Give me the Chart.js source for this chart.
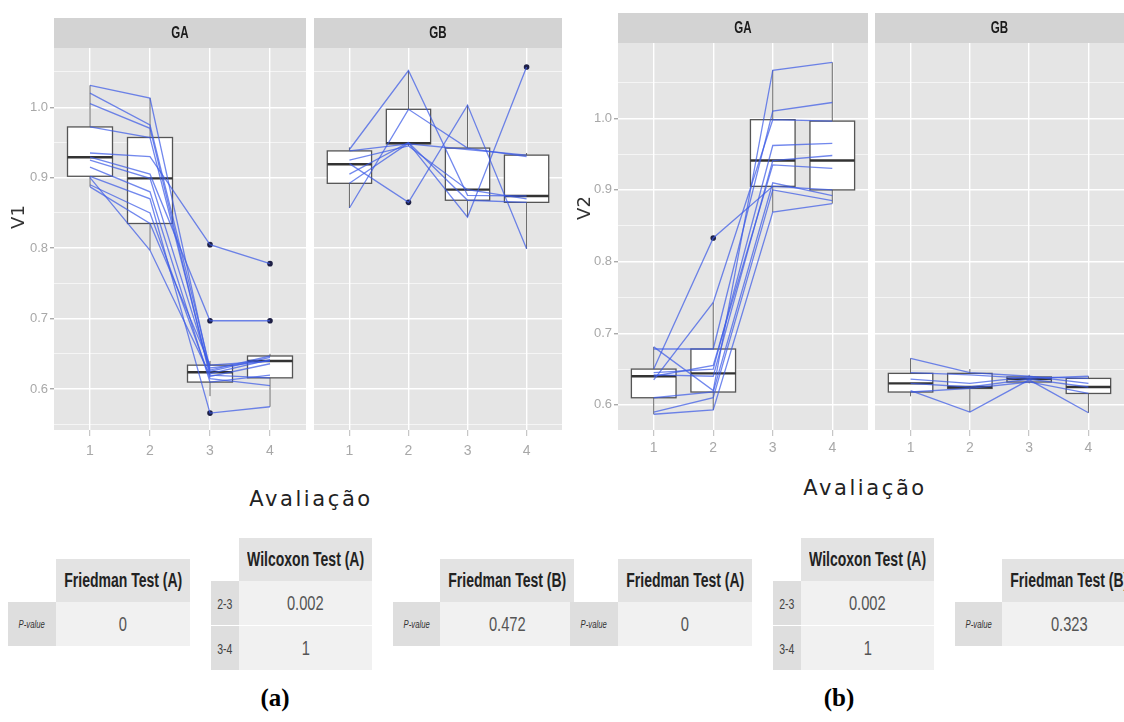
<!DOCTYPE html>
<html lang="pt">
<head>
  <meta charset="UTF-8">
  <title>V1 e V2 por avaliação</title>
  <script src="https://cdn.jsdelivr.net/npm/chart.js"></script>
  <style>
    body { margin: 0; width: 1124px; height: 722px; position: relative; overflow: hidden; background: #fff;
           font-family: 'Liberation Sans', Arial, sans-serif; }
    canvas { position: absolute; top: 0; }
    .txt { position: absolute; white-space: nowrap; }
    .cell { position: absolute; display: flex; align-items: center; justify-content: center; overflow: hidden; white-space: nowrap; }
    .cell span { display: inline-block; transform: scaleX(0.7); }
    .head { background: #e3e3e3; color: #222; font-weight: bold; font-size: 20px; }
    .lab { background: #dedede; color: #444; font-size: 15px; }
    .pv { font-style: italic; font-size: 11px; color: #333; }
    .val { background: #f1f1f1; color: #555; font-size: 21px; }
  </style>
</head>
<body>

  <canvas id="a1" width="310" height="470" style="left:0px"></canvas>
  <canvas id="a2" width="256" height="470" style="left:310px"></canvas>
  <canvas id="b1" width="306" height="470" style="left:566px"></canvas>
  <canvas id="b2" width="252" height="470" style="left:872px"></canvas>

  <script>
    const visits = [1, 2, 3, 4]

    /* V1, grupo GA: caixas (min whisker, q1, mediana, q3, max whisker) */
    const v1GA_lo  = [0.887, 0.797, 0.590, 0.575]
    const v1GA_q1  = [0.902, 0.835, 0.610, 0.616]
    const v1GA_med = [0.929, 0.899, 0.624, 0.640]
    const v1GA_q3  = [0.972, 0.957, 0.634, 0.647]
    const v1GA_hi  = [1.031, 1.013, 0.640, 0.650]
    const v1GA_subjects = [
      [1.031, 1.013, 0.625, 0.645],
      [1.020, 0.975, 0.630, 0.640],
      [1.005, 0.970, 0.618, 0.636],
      [0.972, 0.957, 0.622, 0.642],
      [0.935, 0.930, 0.805, 0.778],
      [0.929, 0.905, 0.697, 0.697],
      [0.925, 0.899, 0.627, 0.647],
      [0.915, 0.880, 0.610, 0.620],
      [0.902, 0.870, 0.566, 0.575],
      [0.890, 0.850, 0.615, 0.605],
      [0.887, 0.835, 0.634, 0.640],
      [0.900, 0.797, 0.620, 0.616],
    ]
    const v1GA_out = [[3, 0.805], [4, 0.778], [3, 0.697], [4, 0.697], [3, 0.566]]

    /* V1, grupo GB */
    const v1GB_lo  = [0.857, 0.945, 0.844, 0.799]
    const v1GB_q1  = [0.892, 0.948, 0.868, 0.865]
    const v1GB_med = [0.919, 0.949, 0.883, 0.874]
    const v1GB_q3  = [0.938, 0.997, 0.942, 0.932]
    const v1GB_hi  = [0.943, 1.052, 1.003, 0.935]
    const v1GB_subjects = [
      [0.940, 1.052, 0.875, 0.874],
      [0.857, 0.997, 0.942, 0.930],
      [0.920, 0.865, 1.003, 0.799],
      [0.892, 0.949, 0.844, 1.057],
      [0.938, 0.948, 0.940, 0.932],
      [0.905, 0.950, 0.868, 0.865],
      [0.925, 0.945, 0.883, 0.870],
    ]
    const v1GB_out = [[2, 0.865], [4, 1.057]]

    /* V2, grupo GA */
    const v2GA_lo  = [0.587, 0.593, 0.869, 0.881]
    const v2GA_q1  = [0.610, 0.618, 0.905, 0.900]
    const v2GA_med = [0.640, 0.644, 0.941, 0.941]
    const v2GA_q3  = [0.650, 0.678, 0.998, 0.996]
    const v2GA_hi  = [0.681, 0.743, 1.067, 1.078]
    const v2GA_subjects = [
      [0.681, 0.620, 1.067, 1.078],
      [0.678, 0.678, 1.010, 1.022],
      [0.645, 0.650, 0.962, 0.965],
      [0.642, 0.640, 0.941, 0.948],
      [0.650, 0.833, 0.905, 0.900],
      [0.640, 0.655, 0.935, 0.930],
      [0.610, 0.618, 0.910, 0.892],
      [0.587, 0.593, 0.869, 0.881],
      [0.590, 0.610, 0.900, 0.885],
      [0.635, 0.743, 0.998, 0.996],
    ]
    const v2GA_out = [[2, 0.833]]

    /* V2, grupo GB */
    const v2GB_lo  = [0.612, 0.590, 0.630, 0.589]
    const v2GB_q1  = [0.618, 0.623, 0.632, 0.616]
    const v2GB_med = [0.630, 0.625, 0.636, 0.625]
    const v2GB_q3  = [0.644, 0.644, 0.639, 0.637]
    const v2GB_hi  = [0.665, 0.650, 0.642, 0.640]
    const v2GB_subjects = [
      [0.665, 0.645, 0.640, 0.630],
      [0.645, 0.642, 0.637, 0.640],
      [0.630, 0.625, 0.636, 0.625],
      [0.620, 0.590, 0.635, 0.589],
      [0.618, 0.623, 0.632, 0.616],
      [0.636, 0.630, 0.639, 0.637],
    ]
    const v2GB_out = []

    /* Tabelas dos testes */
    const friedmanA_p = ['0', '0']
    const wilcoxonPairs = ['2-3', '3-4']
    const wilcoxonA_p = [['0.002', '1'], ['0.002', '1']]
    const friedmanB_p = ['0.472', '0.323']

    const v1Ticks = [0.55, 0.6, 0.65, 0.7, 0.75, 0.8, 0.85, 0.9, 0.95, 1.0, 1.05]
    const v2Ticks = [0.6, 0.65, 0.7, 0.75, 0.8, 0.85, 0.9, 0.95, 1.0, 1.05]

    const sans = "'Liberation Sans', Arial, sans-serif"
    const lineBlue = 'rgba(60, 90, 230, 0.72)'
    const boxHalf = 0.375

    const isMajor = v => Math.abs(v * 10 - Math.round(v * 10)) < 1e-6

    /* gray panel + strip on top */
    const panelBg = {
      id: 'panelBg',
      beforeDraw(chart, args, opts) {
        const { ctx, chartArea: a } = chart
        ctx.save()
        ctx.fillStyle = '#e5e5e5'
        ctx.fillRect(a.left, a.top, a.right - a.left, a.bottom - a.top)
        ctx.fillStyle = '#d3d3d3'
        ctx.fillRect(a.left, a.top - 30, a.right - a.left, 30)
        ctx.fillStyle = '#1a1a1a'
        ctx.font = 'bold 17px ' + sans
        ctx.textAlign = 'center'
        ctx.textBaseline = 'middle'
        ctx.translate((a.left + a.right) / 2, a.top - 15)
        ctx.scale(0.68, 1)
        ctx.fillText(opts.strip, 0, 0)
        ctx.restore()
      }
    }

    /* boxplots drawn under the subject lines */
    const boxes = {
      id: 'boxes',
      beforeDatasetsDraw(chart, args, o) {
        const { ctx, chartArea: a, scales: { x, y } } = chart
        ctx.save()
        ctx.beginPath()
        ctx.rect(a.left, a.top, a.right - a.left, a.bottom - a.top)
        ctx.clip()
        o.med.forEach((m, i) => {
          const v = visits[i]
          const cx = x.getPixelForValue(v)
          const x0 = x.getPixelForValue(v - boxHalf)
          const x1 = x.getPixelForValue(v + boxHalf)
          const yq1 = y.getPixelForValue(o.q1[i])
          const yq3 = y.getPixelForValue(o.q3[i])
          ctx.strokeStyle = '#666'
          ctx.lineWidth = 1
          ctx.beginPath()
          ctx.moveTo(cx, y.getPixelForValue(o.hi[i]))
          ctx.lineTo(cx, yq3)
          ctx.moveTo(cx, yq1)
          ctx.lineTo(cx, y.getPixelForValue(o.lo[i]))
          ctx.stroke()
          ctx.fillStyle = '#fff'
          ctx.fillRect(x0, yq3, x1 - x0, yq1 - yq3)
          ctx.strokeStyle = '#555'
          ctx.lineWidth = 1.3
          ctx.strokeRect(x0, yq3, x1 - x0, yq1 - yq3)
          ctx.strokeStyle = '#333'
          ctx.lineWidth = 2.4
          ctx.beginPath()
          const ym = y.getPixelForValue(m)
          ctx.moveTo(x0, ym)
          ctx.lineTo(x1, ym)
          ctx.stroke()
        })
        ctx.restore()
      }
    }

    const facet = (id, o) => {
      const datasets = o.subjects.map(s => ({
        data: s.map((v, i) => ({ x: visits[i], y: v })),
        showLine: true,
        borderColor: lineBlue,
        borderWidth: 1.3,
        pointRadius: 0,
      }))
      datasets.push({
        data: o.out.map(p => ({ x: p[0], y: p[1] })),
        showLine: false,
        pointRadius: 2.8,
        pointBorderWidth: 0,
        pointBackgroundColor: '#1e2045',
      })

      new Chart(document.getElementById(id), {
        type: 'scatter',
        data: { datasets },
        plugins: [panelBg, boxes],
        options: {
          responsive: false,
          animation: false,
          layout: { padding: { top: o.top, left: o.padL, right: o.padR, bottom: 0 } },
          plugins: {
            legend: { display: false },
            tooltip: { enabled: false },
            panelBg: { strip: o.strip },
            boxes: o.box,
          },
          scales: {
            x: {
              type: 'linear', min: 0.4, max: 4.6,
              afterBuildTicks: s => { s.ticks = visits.map(v => ({ value: v })) },
              afterFit: s => { s.height = 40 },
              grid: { color: '#fff', lineWidth: 1.4, tickLength: 6, tickColor: '#bbb', tickWidth: 1 },
              border: { display: false },
              ticks: { color: '#a8a8a8', font: { family: sans, size: 14 }, padding: o.xPad, autoSkip: false, maxRotation: 0 },
            },
            y: {
              min: o.yMin, max: o.yMax,
              afterBuildTicks: s => { s.ticks = o.yTicks.map(v => ({ value: v })) },
              afterFit: s => { s.width = o.yWidth },
              grid: {
                color: '#fff',
                lineWidth: c => (c.tick && isMajor(c.tick.value)) ? 1.4 : 0.6,
                drawTicks: o.showY,
                tickLength: 4,
                tickColor: c => (c.tick && isMajor(c.tick.value)) ? '#aaa' : 'rgba(0,0,0,0)',
              },
              border: { display: false },
              ticks: {
                display: o.showY,
                callback: v => isMajor(v) ? v.toFixed(1) : '',
                color: '#a8a8a8', font: { family: sans, size: 13 }, padding: 2, autoSkip: false,
              },
            },
          },
        },
      })
    }

    facet('a1', { strip: 'GA', top: 48, padL: 0, padR: 3, yWidth: 54, showY: true, xPad: 7,
      yMin: 0.542, yMax: 1.084, yTicks: v1Ticks, subjects: v1GA_subjects, out: v1GA_out,
      box: { lo: v1GA_lo, q1: v1GA_q1, med: v1GA_med, q3: v1GA_q3, hi: v1GA_hi } })
    facet('a2', { strip: 'GB', top: 48, padL: 2, padR: 2, yWidth: 0, showY: false, xPad: 7,
      yMin: 0.542, yMax: 1.084, yTicks: v1Ticks, subjects: v1GB_subjects, out: v1GB_out,
      box: { lo: v1GB_lo, q1: v1GB_q1, med: v1GB_med, q3: v1GB_q3, hi: v1GB_hi } })
    facet('b1', { strip: 'GA', top: 43, padL: 0, padR: 2, yWidth: 52, showY: true, xPad: 4,
      yMin: 0.565, yMax: 1.105, yTicks: v2Ticks, subjects: v2GA_subjects, out: v2GA_out,
      box: { lo: v2GA_lo, q1: v2GA_q1, med: v2GA_med, q3: v2GA_q3, hi: v2GA_hi } })
    facet('b2', { strip: 'GB', top: 43, padL: 3, padR: 0, yWidth: 0, showY: false, xPad: 4,
      yMin: 0.565, yMax: 1.105, yTicks: v2Ticks, subjects: v2GB_subjects, out: v2GB_out,
      box: { lo: v2GB_lo, q1: v2GB_q1, med: v2GB_med, q3: v2GB_q3, hi: v2GB_hi } })

    /* textos e tabelas em HTML */
    const put = (cls, x, y, w, h, text, extra) => {
      const d = document.createElement('div')
      d.className = cls
      Object.assign(d.style, { left: x + 'px', top: y + 'px', width: w + 'px', height: h + 'px' }, extra || {})
      if (cls.indexOf('cell') === 0) {
        const s = document.createElement('span')
        s.textContent = text
        d.appendChild(s)
      } else {
        d.textContent = text
      }
      document.body.appendChild(d)
    }

    const titleFont = { fontFamily: "'DejaVu Sans', Verdana, sans-serif", color: '#222', textAlign: 'center' }
    put('txt', 221, 487, 180, 28, 'Avaliação', Object.assign({ fontSize: '21px', letterSpacing: '2.6px' }, titleFont))
    put('txt', 775, 476, 180, 28, 'Avaliação', Object.assign({ fontSize: '21px', letterSpacing: '2.6px' }, titleFont))
    put('txt', -11, 205, 60, 24, 'V1', { fontSize: '18px', transform: 'rotate(-90deg)', color: '#333', fontFamily: titleFont.fontFamily, textAlign: 'center' })
    put('txt', 555, 196, 60, 24, 'V2', { fontSize: '18px', transform: 'rotate(-90deg)', color: '#333', fontFamily: titleFont.fontFamily, textAlign: 'center' })

    const serif = { fontFamily: "'Liberation Serif', 'DejaVu Serif', serif", fontWeight: 'bold', fontSize: '25px', color: '#000', textAlign: 'center' }
    put('txt', 235, 684, 80, 30, '(a)', serif)
    put('txt', 799, 684, 80, 30, '(b)', serif)

    const offsets = [0, 562]
    offsets.forEach((dx, k) => {
      // Friedman Test (A)
      put('cell head', 56 + dx, 559, 134, 43, 'Friedman Test (A)')
      put('cell lab pv', 8 + dx, 602, 48, 44, 'P-value')
      put('cell val', 56 + dx, 602, 134, 44, friedmanA_p[k])
      // Wilcoxon Test (A)
      put('cell head', 239 + dx, 538, 133, 43, 'Wilcoxon Test (A)')
      wilcoxonPairs.forEach((pair, r) => {
        const y = 581 + r * 45
        put('cell lab', 211 + dx, y, 28, 44, pair)
        put('cell val', 239 + dx, y, 133, 44, wilcoxonA_p[k][r])
      })
      // Friedman Test (B)
      put('cell head', 440 + dx, 559, 134, 43, 'Friedman Test (B)')
      put('cell lab pv', 393 + dx, 602, 47, 44, 'P-value')
      put('cell val', 440 + dx, 602, 134, 44, friedmanB_p[k])
    })
  </script>
</body>
</html>
